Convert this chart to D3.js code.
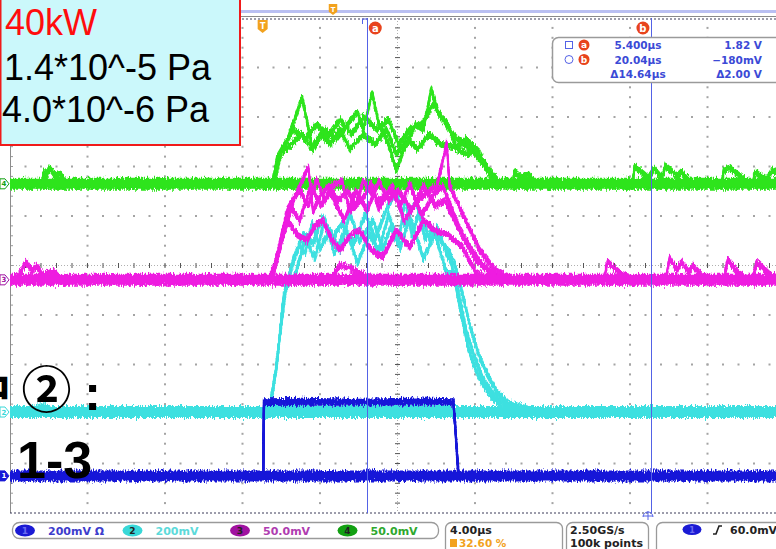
<!DOCTYPE html>
<html>
<head>
<meta charset="utf-8">
<script src="https://cdn.jsdelivr.net/npm/d3@7"></script>
<style>
  body { margin: 0; background: #fff; }
  svg { display: block; }
  .ui { font-family: "DejaVu Sans", sans-serif; font-weight: bold; }
</style>
</head>
<body>
<svg id="scope" width="776" height="549"></svg>
<script>
// ---- acquisition settings ----
const timePerDiv = 4;                 // µs / div
const triggerPercent = 32.60;         // trigger position, % of record
const divsX = 10, divsY = 10;
const channelNames = ["1", "2", "3", "4"];
const channelScales = [200, 200, 50, 50];          // mV / div
const channelOffsets = [-4.25, -2.96, -0.29, 1.65]; // ground position, div from centre
const channelColors = ["#1616d8", "#3ee0e0", "#ee1ce0", "#2ee41e"];
const channelLabels = ["200mV \u03A9", "200mV", "50.0mV", "50.0mV"];
const channelLabelColors = ["#3c3ccc", "#5cdada", "#b03cb0", "#2ea82e"];
const channelBadgeColors = ["#1a1ad4", "#38d8d8", "#a012a0", "#12a012"];

// cursor readouts
const cursorTimes = [5.400, 20.04];   // µs
const cursorReadout = [
  ["5.400\u00B5s", "1.82 V"],
  ["20.04\u00B5s", "\u2212180mV"],
  ["\u039414.64\u00B5s", "\u03942.00 V"]
];
const statusTexts = { timebase: "4.00\u00B5s", trigPos: "32.60 %", rate: "2.50GS/s", points: "100k points", trigLevel: "60.0mV" };

// ---- captured sweeps: [time µs, mV] ----
const ch1Sweeps = [
  [[-13.04,0],[0.02,0],[0.06,300],[2.0,302],[5.0,298],[8.0,303],[9.84,300],[10.1,0],[26.96,0]],
  [[-13.04,0],[0.04,0],[0.08,296],[4.0,297],[9.86,297],[10.12,0],[26.96,0]]
];
const ch2Sweeps = [
  [[-13.04,0],[-12.0,6],[-11.3,26],[-10.9,10],[-10.2,4],[0.3,0],[0.7,170],[1.06,452],[1.5,586],[1.9,675],[2.2,640],[2.56,764],[2.97,660],[3.48,735],[3.99,650],[4.5,804],[5.0,690],[5.7,776],[6.2,660],[6.6,747],[7.0,680],[7.36,857],[7.7,715],[8.1,816],[8.65,690],[9.0,747],[9.5,640],[9.75,600],[10.0,500],[10.3,372],[10.6,263],[10.95,178],[11.3,120],[11.8,61],[12.3,30],[13.3,10],[15.0,6],[20.0,2],[26.96,0]],
  [[-13.04,0],[0.4,0],[0.8,250],[1.2,500],[1.7,560],[2.2,700],[2.7,620],[3.2,780],[3.7,640],[4.3,740],[4.9,600],[5.5,720],[6.0,650],[6.5,800],[7.1,660],[7.6,790],[8.3,620],[8.9,720],[9.5,560],[9.9,560],[10.2,450],[10.5,330],[10.9,230],[11.4,130],[11.9,70],[12.8,25],[14.0,5],[26.96,0]],
  [[-13.04,0],[0.35,0],[0.75,200],[1.1,480],[1.6,620],[2.1,720],[2.6,680],[3.1,790],[3.6,700],[4.1,760],[4.7,680],[5.3,800],[5.8,700],[6.4,820],[6.9,890],[7.3,760],[7.9,850],[8.4,700],[8.8,740],[9.3,680],[9.6,650],[9.9,600],[10.3,480],[10.7,350],[11.1,240],[11.6,150],[12.1,80],[12.7,35],[13.8,10],[26.96,0]]
];
const ch3Sweeps = [
  [[-13.04,0],[-12.6,4],[-12.2,18],[-11.9,9],[-11.7,14],[-11.3,4],[-10.8,9],[-10.4,0],[0.4,0],[0.8,30],[1.27,71],[1.9,91],[2.35,75],[2.8,101],[3.2,80],[3.6,95],[4.1,100],[4.5,70],[5.1,80],[5.6,97],[6.0,72],[6.6,92],[7.1,75],[7.6,97],[8.2,65],[8.8,85],[9.3,95],[9.8,70],[10.3,45],[11.0,20],[11.7,8],[12.5,0],[17.6,0],[17.8,18],[18.5,6],[19.2,0],[20.8,0],[21.0,22],[21.4,10],[21.6,18],[22.0,8],[22.2,14],[22.8,2],[23.8,0],[24.0,20],[24.6,6],[25.3,0],[25.5,18],[26.2,5],[26.96,2]],
  [[-13.04,0],[0.3,0],[0.7,20],[1.3,60],[1.8,45],[2.3,40],[2.7,55],[3.1,60],[3.6,40],[4.0,30],[4.5,45],[5.0,50],[5.6,30],[6.2,23],[6.9,50],[7.3,40],[7.6,33],[8.3,60],[8.9,50],[9.5,46],[9.9,40],[10.3,33],[11.0,8],[11.7,0],[26.96,0]],
  [[-13.04,0],[0.5,0],[1.0,40],[1.6,80],[2.35,114],[2.6,70],[3.0,85],[3.4,95],[3.9,80],[4.4,90],[4.8,75],[5.2,100],[5.7,85],[6.1,80],[6.7,95],[7.3,60],[8.0,80],[8.6,90],[9.0,95],[9.5,138],[9.65,95],[10.0,80],[10.6,55],[11.2,30],[12.0,10],[12.8,0],[26.96,0]],
  [[-13.04,0],[0.45,0],[0.9,35],[1.4,75],[1.9,60],[2.5,95],[3.0,75],[3.5,88],[4.2,60],[4.8,90],[5.4,70],[6.0,100],[6.5,80],[7.0,90],[7.7,70],[8.3,95],[8.9,75],[9.4,80],[9.9,60],[10.5,40],[11.2,18],[12.0,4],[12.6,0],[26.96,0]],
  [[-13.04,0],[3.5,0],[3.99,15],[4.5,12],[5.2,5],[6.0,0],[26.96,0]]
];
const ch4Sweeps = [
  [[-13.04,0],[-11.4,0],[-11.3,12],[-11.15,8],[-11.0,16],[-10.7,8],[-10.45,10],[-10.1,0],[0.5,0],[0.75,27],[1.3,45],[2.04,87],[2.56,37],[3.0,50],[3.5,40],[4.0,55],[4.5,35],[5.2,50],[5.8,40],[6.4,55],[6.9,30],[7.5,45],[8.0,35],[8.6,50],[9.2,40],[9.9,37],[10.5,30],[11.0,34],[11.7,14],[12.2,0],[12.9,0],[13.0,12],[13.4,6],[13.7,10],[14.1,0],[19.1,0],[19.2,18],[19.9,6],[20.2,15],[20.6,6],[20.8,18],[21.4,8],[21.6,12],[22.2,0],[23.7,0],[23.8,14],[24.1,16],[24.9,4],[25.3,0],[25.4,12],[26.0,4],[26.3,14],[26.96,6]],
  [[-13.04,0],[0.55,0],[0.9,30],[1.5,40],[2.0,50],[2.6,35],[3.2,55],[3.8,45],[4.4,60],[4.88,73],[5.2,55],[5.65,92],[6.0,60],[6.5,40],[6.89,14],[7.3,35],[7.9,60],[8.3,55],[8.7,95],[9.1,70],[9.5,62],[10.0,37],[10.5,45],[11.1,34],[11.6,15],[12.3,0],[26.96,0]],
  [[-13.04,0],[0.6,0],[1.0,35],[1.6,55],[2.2,45],[2.8,60],[3.4,48],[4.0,65],[4.6,50],[5.2,68],[5.9,55],[6.5,65],[7.0,40],[7.6,55],[8.2,60],[8.8,80],[9.3,65],[9.8,50],[10.4,40],[11.0,30],[11.4,20],[12.0,0],[26.96,0]]
];
const sweepsByChannel = [ch1Sweeps, ch2Sweeps, ch3Sweeps, ch4Sweeps];

// annotation texts
const powerText = "40kW";
const pressureTexts = ["1.4*10^-5 Pa", "4.0*10^-6 Pa"];
const noteTexts = ["\u4E2D", "\u2461", ":", "1-3"];

// ---- layout ----
const svg = d3.select("#scope");
const W = 776, H = 549;
const grid = { left: 10, top: 18, divW: 77.5, divH: 49.5 };
grid.right = grid.left + divsX * grid.divW;
grid.bottom = grid.top + divsY * grid.divH;

const tStart = -triggerPercent / 100 * divsX * timePerDiv;
const tEnd = tStart + divsX * timePerDiv;
const x = d3.scaleLinear().domain([tStart, tEnd]).range([grid.left, grid.right]);
const yDiv = d3.scaleLinear().domain([-divsY / 2, divsY / 2]).range([grid.bottom, grid.top]);
const yCh = ch => v => yDiv(channelOffsets[ch] + v / channelScales[ch]);

const defs = svg.append("defs");
defs.append("clipPath").attr("id", "plotClip")
  .append("rect").attr("x", grid.left).attr("y", grid.top)
  .attr("width", W - grid.left).attr("height", grid.bottom - grid.top);
// vertical-only jitter so flat traces get ragged edges like sampled noise
const f = defs.append("filter").attr("id", "jitter").attr("filterUnits", "userSpaceOnUse")
  .attr("x", 0).attr("y", 0).attr("width", W).attr("height", H);
f.append("feTurbulence").attr("type", "fractalNoise").attr("baseFrequency", "0.9 0.25")
  .attr("numOctaves", 2).attr("seed", 7).attr("result", "turb");
f.append("feColorMatrix").attr("in", "turb").attr("type", "matrix")
  .attr("values", "0 0 0 0 0.5  0 1 0 0 0  0 0 0 0 0  0 0 0 0 1").attr("result", "map");
f.append("feDisplacementMap").attr("in", "SourceGraphic").attr("in2", "map")
  .attr("scale", 8).attr("xChannelSelector", "R").attr("yChannelSelector", "G");

svg.append("rect").attr("width", W).attr("height", H).attr("fill", "#fff");

// ---- record view bar above the graticule ----
svg.append("rect").attr("x", 0).attr("y", 10).attr("width", W).attr("height", 3).attr("fill", "#b9bff2");
svg.append("line").attr("x1", 0).attr("x2", W).attr("y1", 16.5).attr("y2", 16.5).attr("stroke", "#8a8a8a");

// ---- graticule ----
const gGrid = svg.append("g");
const dotColor = "#a4a4a4";
for (let i = 1; i < divsX; i++) {
  if (i === divsX / 2) continue;
  const gx = grid.left + i * grid.divW;
  for (let k = 1; k < divsY * 5; k++) {
    gGrid.append("rect").attr("x", gx - 1).attr("y", grid.top + k * grid.divH / 5 - 1)
      .attr("width", 2).attr("height", 2).attr("fill", dotColor);
  }
}
for (let j = 1; j < divsY; j++) {
  if (j === divsY / 2) continue;
  const gy = grid.top + j * grid.divH;
  for (let k = 1; k < divsX * 5; k++) {
    gGrid.append("rect").attr("x", grid.left + k * grid.divW / 5 - 1).attr("y", gy - 1)
      .attr("width", 2).attr("height", 2).attr("fill", dotColor);
  }
}
// centre axes with minor ticks
const cx0 = grid.left + grid.divW * divsX / 2, cy0 = grid.top + grid.divH * divsY / 2;
gGrid.append("line").attr("x1", cx0).attr("x2", cx0).attr("y1", grid.top).attr("y2", grid.bottom)
  .attr("stroke", "#b0b0b0").attr("stroke-dasharray", "1,2");
gGrid.append("line").attr("y1", cy0).attr("y2", cy0).attr("x1", grid.left).attr("x2", W)
  .attr("stroke", "#b0b0b0").attr("stroke-dasharray", "1,2");
for (let k = 1; k < divsY * 5; k++) {
  const yy = grid.top + k * grid.divH / 5;
  gGrid.append("line").attr("x1", cx0 - 2.5).attr("x2", cx0 + 2.5).attr("y1", yy).attr("y2", yy).attr("stroke", "#555");
  gGrid.append("line").attr("x1", grid.left).attr("x2", grid.left + 3).attr("y1", yy).attr("y2", yy).attr("stroke", "#999");
}
for (let k = 1; k < divsX * 5; k++) {
  const xx = grid.left + k * grid.divW / 5;
  gGrid.append("line").attr("x1", xx).attr("x2", xx).attr("y1", cy0 - 2.5).attr("y2", cy0 + 2.5).attr("stroke", "#555");
}
// frame
gGrid.append("line").attr("x1", grid.left + 0.5).attr("x2", grid.left + 0.5).attr("y1", grid.top).attr("y2", grid.bottom)
  .attr("stroke", "#8c8c8c");
gGrid.append("line").attr("x1", grid.left).attr("x2", W).attr("y1", grid.top + 1).attr("y2", grid.top + 1)
  .attr("stroke", "#3a3a58").attr("stroke-dasharray", "2,2");
gGrid.append("line").attr("x1", grid.left).attr("x2", W).attr("y1", grid.bottom).attr("y2", grid.bottom)
  .attr("stroke", "#3a3a58").attr("stroke-dasharray", "2,2");

// ---- waveforms ----
const traces = svg.append("g").attr("clip-path", "url(#plotClip)");
const drawOrder = [3, 1, 2, 0];
const groundW = [11, 12, 12, 12];
const bandOffsets = [-2.5, -1.25, 0, 1.25, 2.5]; // persistence spread of each sweep, px
drawOrder.forEach(ch => {
  const line = d3.line().x(d => x(d[0])).y(d => yCh(ch)(d[1]));
  const g = traces.append("g").attr("filter", "url(#jitter)");
  g.append("path").datum([[tStart, 0], [tEnd, 0]]).attr("d", line)
    .attr("fill", "none").attr("stroke", channelColors[ch]).attr("stroke-width", groundW[ch]);
  sweepsByChannel[ch].forEach(sw => {
    bandOffsets.forEach(dy => {
      g.append("path").datum(sw).attr("d", line).attr("transform", `translate(0,${dy})`)
        .attr("fill", "none").attr("stroke", channelColors[ch])
        .attr("stroke-width", 1.8).attr("stroke-linejoin", "round");
    });
  });
});

// channel ground markers on the left edge
channelNames.forEach((n, ch) => {
  const gy = yCh(ch)(0);
  const m = svg.append("g");
  m.append("path").attr("d", `M0,${gy - 5}L5,${gy - 5}L9,${gy}L5,${gy + 5}L0,${gy + 5}Z`)
    .attr("fill", ch === 0 ? channelColors[0] : "#fff").attr("stroke", channelBadgeColors[ch]).attr("stroke-width", 1);
  m.append("text").attr("x", 4).attr("y", gy + 2.5).attr("text-anchor", "middle")
    .attr("font-size", 7).attr("class", "ui").attr("fill", ch === 0 ? "#fff" : channelBadgeColors[ch]).text(n);
});

// ---- cursors ----
const cursorColor = "#5462e6";
cursorTimes.forEach(t => {
  svg.append("line").attr("x1", Math.round(x(t)) + 0.5).attr("x2", Math.round(x(t)) + 0.5)
    .attr("y1", grid.top).attr("y2", grid.bottom).attr("stroke", cursorColor).attr("stroke-width", 1);
});
const ax = Math.round(x(cursorTimes[0])) + 0.5;
svg.append("path").attr("d", `M${ax - 5},${grid.top + 6}L${ax - 5},${grid.top + 1}L${ax},${grid.top + 1}`)
  .attr("fill", "none").attr("stroke", cursorColor);

function badge(cx, cy, letter) {
  svg.append("circle").attr("cx", cx).attr("cy", cy).attr("r", 6.5).attr("fill", "#e8431c");
  svg.append("text").attr("x", cx).attr("y", cy + 3.5).attr("text-anchor", "middle")
    .attr("font-size", 10).attr("class", "ui").attr("fill", "#fff").text(letter);
}
badge(x(cursorTimes[0]) + 8, 28, "a");
badge(x(cursorTimes[1]) - 8, 28, "b");

// trigger markers
function trigMarker(cx, top, s) {
  svg.append("path").attr("d", `M${cx - 5 * s},${top}L${cx + 5 * s},${top}L${cx + 5 * s},${top + 9 * s}L${cx},${top + 13 * s}L${cx - 5 * s},${top + 9 * s}Z`)
    .attr("fill", "#f2a21e");
  svg.append("text").attr("x", cx).attr("y", top + 9 * s).attr("text-anchor", "middle")
    .attr("font-size", 8 * s).attr("class", "ui").attr("fill", "#fff").text("T");
}
trigMarker(x(0), 20, 1);
trigMarker(333, 4, 0.85);

// cursor readout box
const rb = svg.append("g");
rb.append("rect").attr("x", 552.5).attr("y", 37.5).attr("width", 240).attr("height", 45).attr("rx", 6)
  .attr("fill", "#fff").attr("stroke", "#9a9a9a").attr("stroke-width", 1.5);
rb.append("rect").attr("x", 565.5).attr("y", 41.5).attr("width", 7).attr("height", 7).attr("fill", "none").attr("stroke", cursorColor);
rb.append("circle").attr("cx", 569).attr("cy", 59.5).attr("r", 4).attr("fill", "none").attr("stroke", cursorColor);
[["a", 45], ["b", 59.5]].forEach(([l, cy]) => {
  rb.append("circle").attr("cx", 584).attr("cy", cy).attr("r", 5.5).attr("fill", "#e8431c");
  rb.append("text").attr("x", 584).attr("y", cy + 3.3).attr("text-anchor", "middle").attr("font-size", 9)
    .attr("class", "ui").attr("fill", "#fff").text(l);
});
cursorReadout.forEach((row, i) => {
  const yy = 49 + i * 14.5;
  rb.append("text").attr("x", 638).attr("y", yy).attr("text-anchor", "middle").attr("font-size", 10.5)
    .attr("class", "ui").attr("fill", "#3b4ad6").text(row[0]);
  rb.append("text").attr("x", 762).attr("y", yy).attr("text-anchor", "end").attr("font-size", 10.5)
    .attr("class", "ui").attr("fill", "#3b4ad6").text(row[1]);
});

// ---- status bar ----
const sb = svg.append("g");
sb.append("rect").attr("x", 12.5).attr("y", 522.5).attr("width", 426).attr("height", 16).attr("rx", 7)
  .attr("fill", "#fff").attr("stroke", "#9a9a9a").attr("stroke-width", 1.3);
channelNames.forEach((n, ch) => {
  const bx = 25 + ch * 107.5;
  sb.append("ellipse").attr("cx", bx).attr("cy", 530.5).attr("rx", 10).attr("ry", 6).attr("fill", channelBadgeColors[ch]);
  sb.append("text").attr("x", bx).attr("y", 534).attr("text-anchor", "middle").attr("font-size", 9)
    .attr("class", "ui").attr("fill", ch === 0 ? "#6a6af0" : "#222").text(n);
  sb.append("text").attr("x", bx + 23).attr("y", 534.5).attr("font-size", 11)
    .attr("class", "ui").attr("fill", channelLabelColors[ch]).text(channelLabels[ch]);
});
sb.append("rect").attr("x", 445.5).attr("y", 522.5).attr("width", 117).attr("height", 34).attr("rx", 6)
  .attr("fill", "#fff").attr("stroke", "#9a9a9a").attr("stroke-width", 1.3);
sb.append("text").attr("x", 450).attr("y", 534).attr("font-size", 11).attr("class", "ui").attr("fill", "#222").text(statusTexts.timebase);
sb.append("rect").attr("x", 450).attr("y", 539).attr("width", 7).attr("height", 8).attr("fill", "#f2a21e");
sb.append("text").attr("x", 459).attr("y", 547).attr("font-size", 10.5).attr("class", "ui").attr("fill", "#f2a21e").text(statusTexts.trigPos);
sb.append("rect").attr("x", 566.5).attr("y", 522.5).attr("width", 82).attr("height", 34).attr("rx", 6)
  .attr("fill", "#fff").attr("stroke", "#9a9a9a").attr("stroke-width", 1.3);
sb.append("text").attr("x", 570).attr("y", 534).attr("font-size", 11).attr("class", "ui").attr("fill", "#222").text(statusTexts.rate);
sb.append("text").attr("x", 570).attr("y", 547).attr("font-size", 11).attr("class", "ui").attr("fill", "#222").text(statusTexts.points);
sb.append("rect").attr("x", 656.5).attr("y", 522.5).attr("width", 130).attr("height", 34).attr("rx", 6)
  .attr("fill", "#fff").attr("stroke", "#9a9a9a").attr("stroke-width", 1.3);
sb.append("ellipse").attr("cx", 692).attr("cy", 529.5).attr("rx", 9.5).attr("ry", 5.5).attr("fill", channelBadgeColors[0]);
sb.append("text").attr("x", 692).attr("y", 532.5).attr("text-anchor", "middle").attr("font-size", 8)
  .attr("class", "ui").attr("fill", "#6a6af0").text("1");
sb.append("path").attr("d", "M713,534L716,534L719,526L722,526").attr("fill", "none").attr("stroke", "#222").attr("stroke-width", 1.6);
sb.append("text").attr("x", 730).attr("y", 534).attr("font-size", 11).attr("class", "ui").attr("fill", "#222").text(statusTexts.trigLevel);
// cursor b foot marker
svg.append("path").attr("d", "M643,517A5,5 0 0 1 653,517M648,511L648,520M643,516L653,516").attr("fill", "none").attr("stroke", cursorColor);

// ---- annotations ----
const note = svg.append("g");
note.append("rect").attr("x", 0.5).attr("y", -2).attr("width", 239.5).attr("height", 147)
  .attr("fill", "#cbf8fb").attr("stroke", "#f01a1a").attr("stroke-width", 2);
note.append("text").attr("x", 5).attr("y", 35).attr("font-family", "Liberation Sans, Arial, sans-serif")
  .attr("font-size", 36).attr("fill", "#ff0d0d").text(powerText);
pressureTexts.forEach((t, i) => {
  note.append("text").attr("x", i === 0 ? 4 : 2).attr("y", 80 + i * 42).attr("font-family", "Liberation Sans, Arial, sans-serif")
    .attr("font-size", 36).attr("fill", "#000").text(t);
});
const cjk = "Noto Sans CJK SC, sans-serif";
note.append("text").attr("x", 11).attr("y", 407).attr("text-anchor", "end").attr("font-family", cjk)
  .attr("font-weight", "bold").attr("font-size", 44).attr("fill", "#000").text(noteTexts[0]);
note.append("text").attr("x", 46.5).attr("y", 408).attr("text-anchor", "middle").attr("font-family", cjk)
  .attr("font-weight", "bold").attr("font-size", 50).attr("fill", "#000").text(noteTexts[1]);
note.append("text").attr("x", 92.5).attr("y", 410).attr("text-anchor", "middle").attr("font-family", "Liberation Sans, Arial, sans-serif")
  .attr("font-weight", "bold").attr("font-size", 50).attr("fill", "#000").text(noteTexts[2]);
note.append("text").attr("x", 17).attr("y", 478).attr("font-family", "Liberation Sans, Arial, sans-serif")
  .attr("font-weight", "bold").attr("font-size", 52).attr("fill", "#000").text(noteTexts[3]);
</script>
</body>
</html>
